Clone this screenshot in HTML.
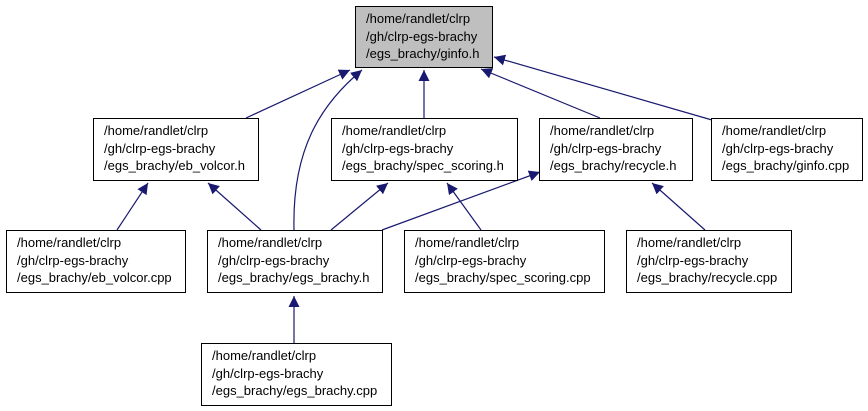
<!DOCTYPE html>
<html><head><meta charset="utf-8"><style>
body{margin:0;background:#fff;width:868px;height:411px;overflow:hidden}
svg{display:block}
text{font-family:"Liberation Sans",sans-serif;font-size:13px;fill:#000}
</style></head><body>
<svg width="868" height="411">
<defs><marker id="a" viewBox="0 0 10 10" refX="10" refY="5" markerWidth="11" markerHeight="11" markerUnits="userSpaceOnUse" orient="auto"><path d="M0,0L10,5L0,10z" fill="#191970"/></marker></defs>
<g stroke="#191970" stroke-width="1.2" fill="none" marker-end="url(#a)">
<line x1="246" y1="118" x2="350" y2="70"/>
<path d="M294,230 C292,150 320,105 362,70"/>
<line x1="424" y1="118" x2="424" y2="70"/>
<line x1="600" y1="118" x2="481" y2="69"/>
<line x1="712" y1="120" x2="494" y2="57"/>
<line x1="117" y1="230" x2="148" y2="183"/>
<line x1="261" y1="230" x2="208" y2="183"/>
<line x1="331" y1="230" x2="388" y2="183"/>
<line x1="481" y1="230" x2="447" y2="183"/>
<line x1="382" y1="230" x2="540" y2="172"/>
<line x1="705" y1="230" x2="652" y2="183"/>
<line x1="294" y1="344" x2="294" y2="296"/>
</g>
<g><rect x="355.5" y="6.5" width="137" height="61" fill="#bfbfbf" stroke="#000"/><text x="366" y="23">/home/randlet/clrp</text><text x="366" y="41">/gh/clrp-egs-brachy</text><text x="366" y="58">/egs_brachy/ginfo.h</text></g>
<g><rect x="93.5" y="118.5" width="165" height="62" fill="#fff" stroke="#000"/><text x="104" y="135">/home/randlet/clrp</text><text x="104" y="153">/gh/clrp-egs-brachy</text><text x="104" y="170">/egs_brachy/eb_volcor.h</text></g>
<g><rect x="331.5" y="118.5" width="186" height="62" fill="#fff" stroke="#000"/><text x="342" y="135">/home/randlet/clrp</text><text x="342" y="153">/gh/clrp-egs-brachy</text><text x="342" y="170">/egs_brachy/spec_scoring.h</text></g>
<g><rect x="539.5" y="118.5" width="153" height="62" fill="#fff" stroke="#000"/><text x="550" y="135">/home/randlet/clrp</text><text x="550" y="153">/gh/clrp-egs-brachy</text><text x="550" y="170">/egs_brachy/recycle.h</text></g>
<g><rect x="711.5" y="118.5" width="151" height="62" fill="#fff" stroke="#000"/><text x="722" y="135">/home/randlet/clrp</text><text x="722" y="153">/gh/clrp-egs-brachy</text><text x="722" y="170">/egs_brachy/ginfo.cpp</text></g>
<g><rect x="6.5" y="230.5" width="179" height="62" fill="#fff" stroke="#000"/><text x="17" y="247">/home/randlet/clrp</text><text x="17" y="265">/gh/clrp-egs-brachy</text><text x="17" y="282">/egs_brachy/eb_volcor.cpp</text></g>
<g><rect x="207.5" y="230.5" width="175" height="62" fill="#fff" stroke="#000"/><text x="218" y="247">/home/randlet/clrp</text><text x="218" y="265">/gh/clrp-egs-brachy</text><text x="218" y="282">/egs_brachy/egs_brachy.h</text></g>
<g><rect x="404.5" y="230.5" width="200" height="62" fill="#fff" stroke="#000"/><text x="415" y="247">/home/randlet/clrp</text><text x="415" y="265">/gh/clrp-egs-brachy</text><text x="415" y="282">/egs_brachy/spec_scoring.cpp</text></g>
<g><rect x="626.5" y="230.5" width="165" height="62" fill="#fff" stroke="#000"/><text x="637" y="247">/home/randlet/clrp</text><text x="637" y="265">/gh/clrp-egs-brachy</text><text x="637" y="282">/egs_brachy/recycle.cpp</text></g>
<g><rect x="201.5" y="343.5" width="190" height="62" fill="#fff" stroke="#000"/><text x="212" y="360">/home/randlet/clrp</text><text x="212" y="378">/gh/clrp-egs-brachy</text><text x="212" y="395">/egs_brachy/egs_brachy.cpp</text></g>
</svg>
</body></html>
